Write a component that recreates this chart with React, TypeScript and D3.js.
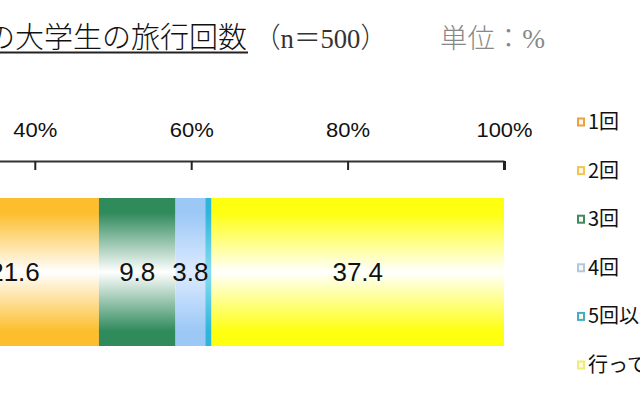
import * as d3 from "d3";
import { useEffect, useRef } from "react";

const categories = ["大学生"];
const seriesNames = ["1回", "2回", "3回", "4回", "5回以上", "行っていない"];
const seriesValues = [26.6, 21.6, 9.8, 3.8, 0.8, 37.4];
const tickValues = [0, 20, 40, 60, 80, 100];
const tickLabels = ["0%", "20%", "40%", "60%", "80%", "100%"];

const barColors = ["#F0A030", "#FCBE2C", "#2F8A5C", "#9CC8F6", "#2DB6DA", "#FFFF10"];
const midColors = ["#FFFFFF", "#FFFFFF", "#FFFFFF", "#DCEBFF", "#8ADDF0", "#FFFFFF"];
const legendColors = ["#E8A040", "#F2C650", "#3F8A64", "#AFC8E6", "#40AECB", "#EEEE70"];

const width = 640;
const height = 400;

export default function App() {
  const axisRef = useRef<SVGGElement | null>(null);

  // the visible area is a crop: 0% sits well left of the picture
  const x = d3.scaleLinear().domain([0, 100]).range([-278, 504]);
  const y = d3.scaleBand().domain(categories).range([198, 346]).padding(0);

  const stacked = seriesValues.map((v, i) => {
    const start = d3.sum(seriesValues.slice(0, i));
    return { name: seriesNames[i], value: v, start, end: start + v, i };
  });

  const legendY = d3
    .scalePoint<string>()
    .domain(seriesNames)
    .range([122, 365]);

  useEffect(() => {
    const g = d3.select(axisRef.current);
    g.selectAll("*").remove();
    const axis = d3
      .axisTop(x)
      .tickValues(tickValues)
      .tickFormat((d, i) => tickLabels[i])
      .tickSizeInner(-9)
      .tickSizeOuter(0)
      .tickPadding(24);
    g.attr("transform", "translate(0,161)").call(axis);
    g.select(".domain").attr("stroke", "#333").attr("stroke-width", 2);
    g.selectAll(".tick line")
      .attr("stroke", "#222")
      .attr("stroke-width", (d) => ((d as number) === 100 ? 3 : 2));
    g.selectAll(".tick text")
      .attr("fill", "#111")
      .style("font-family", "'Liberation Sans', Arial, sans-serif")
      .style("font-size", "20px")
      .attr("textLength", (d, i) => (tickLabels[i].length === 4 ? 56 : 44))
      .attr("lengthAdjust", "spacingAndGlyphs");
  }, []);

  const titleFont = "'Liberation Serif', 'Noto Sans CJK JP', serif";

  return (
    <svg
      width={width}
      height={height}
      style={{ position: "absolute", left: 0, top: 0, background: "#fff" }}
    >
      <defs>
        {stacked.map((s) => (
          <linearGradient key={s.i} id={`grad${s.i}`} x1="0" y1="0" x2="0" y2="1">
            <stop offset="0" stopColor={barColors[s.i]} />
            <stop offset="0.1" stopColor={barColors[s.i]} />
            <stop offset="0.5" stopColor={midColors[s.i]} />
            <stop offset="0.9" stopColor={barColors[s.i]} />
            <stop offset="1" stopColor={barColors[s.i]} />
          </linearGradient>
        ))}
      </defs>

      {/* title */}
      <text
        x={-14}
        y={48}
        style={{ fontFamily: titleFont, fontSize: 29, fontWeight: 300 }}
        fill="#111"
      >
        の大学生の旅行回数
      </text>
      <line x1={0} x2={248} y1={52.5} y2={52.5} stroke="#222" strokeWidth={2} />
      <text
        x={254}
        y={48}
        style={{ fontFamily: titleFont, fontSize: 28, fontWeight: 300 }}
        fill="#333"
        textLength={133}
        lengthAdjust="spacingAndGlyphs"
      >
        （n＝500）
      </text>
      <text
        x={440}
        y={48}
        style={{ fontFamily: titleFont, fontSize: 27, fontWeight: 300 }}
        fill="#888"
        textLength={105}
        lengthAdjust="spacingAndGlyphs"
      >
        単位：%
      </text>

      <g ref={axisRef} />

      {/* stacked bar */}
      {stacked.map((s) => (
        <rect
          key={s.i}
          x={x(s.start)}
          y={y(categories[0])}
          width={x(s.end) - x(s.start)}
          height={y.bandwidth()}
          fill={`url(#grad${s.i})`}
        />
      ))}
      {stacked
        .filter((s) => s.value >= 2)
        .map((s) => (
          <text
            key={s.i}
            x={x((s.start + s.end) / 2)}
            y={(y(categories[0]) ?? 0) + y.bandwidth() / 2 + 9}
            textAnchor="middle"
            style={{ fontFamily: "'Liberation Sans', Arial, sans-serif", fontSize: 26 }}
            fill="#111"
          >
            {s.value.toFixed(1)}
          </text>
        ))}

      {/* legend */}
      {seriesNames.map((name, i) => {
        const cy = legendY(name) ?? 0;
        return (
          <g key={name}>
            <rect
              x={578}
              y={cy - 3.5}
              width={6}
              height={7}
              fill="#fff8e8"
              stroke={legendColors[i]}
              strokeWidth={2}
            />
            <text
              x={588}
              y={cy + 7}
              style={{ fontFamily: "'Noto Sans CJK JP', sans-serif", fontSize: 20 }}
              fill="#111"
            >
              {name}
            </text>
          </g>
        );
      })}
    </svg>
  );
}
